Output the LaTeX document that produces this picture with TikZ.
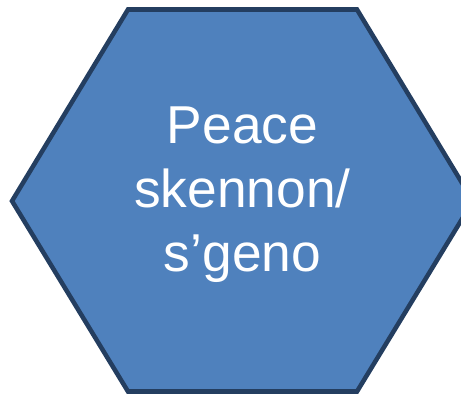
\documentclass[tikz,border=0pt]{standalone}
\usepackage{fontspec}
\setmainfont{Liberation Sans}
\usetikzlibrary{positioning}
\definecolor{hexblue}{RGB}{79,129,189}
\definecolor{hexline}{RGB}{36,62,96}
\tikzset{
  hexa/.style={draw=hexline,fill=hexblue,line width=3.4pt,line join=miter},
  label text/.style={text=white,align=center,font=\fontsize{40}{48}\selectfont,inner sep=0pt},
}
\begin{document}
\begin{tikzpicture}[x=0.75pt,y=-0.75pt]
    \useasboundingbox (0,0) rectangle (461,394);
    \clip (0,0) rectangle (461,394);
    % six corners, flat top and bottom
    \draw[hexa] (128,9.5) -- (357,9.5) -- (473,201) -- (357,391.5) -- (128,391.5) -- (12,201) -- cycle;
    \node[label text] (peace) at (242.5,195) {Peace\\skennon/\\s’geno};
  \end{tikzpicture}
\end{document}
